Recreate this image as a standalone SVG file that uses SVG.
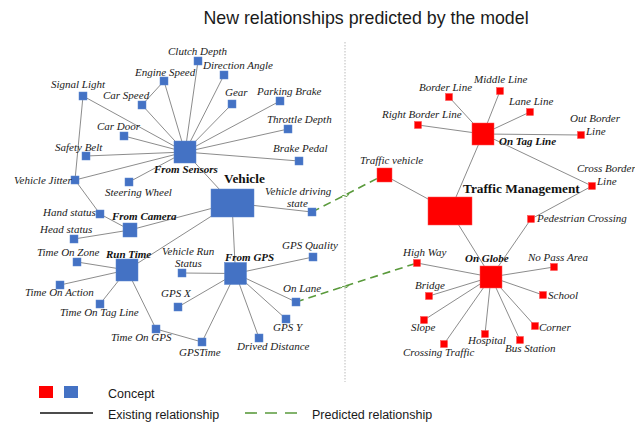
<svg xmlns="http://www.w3.org/2000/svg" width="635" height="422" viewBox="0 0 635 422">
<style>
.e{stroke:#6e6e6e;stroke-width:0.8;fill:none}
.p{stroke:#5a9a3c;stroke-width:1.6;stroke-dasharray:8 5;fill:none}
.b{fill:#4472c4;stroke:#5b86d0;stroke-width:0.5}
.r{fill:#ff0000;stroke:#ff5050;stroke-width:0.5}
.t{font-family:"Liberation Serif","Times New Roman",serif;font-style:italic;font-size:11px;fill:#1a1a1a}
.h{font-family:"Liberation Serif","Times New Roman",serif;font-style:italic;font-weight:bold;font-size:11px;fill:#111}
.m{font-family:"Liberation Serif","Times New Roman",serif;font-weight:bold;font-size:13.3px;fill:#111}
.s{font-family:"Liberation Sans",Arial,sans-serif;font-size:12.5px;fill:#1a1a1a}
</style>
<rect width="635" height="422" fill="#fff"/>
<text x="366" y="24" text-anchor="middle" style="font-family:'Liberation Sans',Arial,sans-serif;font-size:17.8px;fill:#1a1a1a">New relationships predicted by the model</text>
<line x1="345" y1="42" x2="345" y2="382" stroke="#aaa" stroke-width="0.8" stroke-dasharray="1.5 1.5"/>
<g id="connectors">
<line class="e" x1="185" y1="152" x2="198" y2="61"/>
<line class="e" x1="185" y1="152" x2="224" y2="75"/>
<line class="e" x1="185" y1="152" x2="164" y2="81"/>
<line class="e" x1="185" y1="152" x2="142" y2="105"/>
<line class="e" x1="185" y1="152" x2="232" y2="104"/>
<line class="e" x1="185" y1="152" x2="280" y2="101"/>
<line class="e" x1="185" y1="152" x2="288" y2="129"/>
<line class="e" x1="185" y1="152" x2="124" y2="136"/>
<line class="e" x1="185" y1="152" x2="86" y2="156"/>
<line class="e" x1="185" y1="152" x2="299" y2="161"/>
<line class="e" x1="185" y1="152" x2="75" y2="180"/>
<line class="e" x1="185" y1="152" x2="129" y2="182"/>
<line class="e" x1="185" y1="152" x2="83" y2="96"/>
<line class="e" x1="185" y1="152" x2="232" y2="203"/>
<line class="e" x1="142" y1="105" x2="164" y2="81"/>
<line class="e" x1="83" y1="96" x2="75" y2="180"/>
<line class="e" x1="75" y1="180" x2="100" y2="214"/>
<line class="e" x1="100" y1="214" x2="130" y2="230"/>
<line class="e" x1="232" y1="203" x2="130" y2="230"/>
<line class="e" x1="232" y1="203" x2="127" y2="270"/>
<line class="e" x1="232" y1="203" x2="235.5" y2="273.5"/>
<line class="e" x1="232" y1="203" x2="312" y2="212"/>
<line class="e" x1="130" y1="230" x2="74" y2="239"/>
<line class="e" x1="127" y1="270" x2="77" y2="262"/>
<line class="e" x1="127" y1="270" x2="60" y2="285"/>
<line class="e" x1="127" y1="270" x2="100" y2="304"/>
<line class="e" x1="127" y1="270" x2="156" y2="329"/>
<line class="e" x1="156" y1="329" x2="202" y2="342"/>
<line class="e" x1="235.5" y1="273.5" x2="182" y2="273"/>
<line class="e" x1="235.5" y1="273.5" x2="313" y2="257"/>
<line class="e" x1="235.5" y1="273.5" x2="178" y2="307"/>
<line class="e" x1="235.5" y1="273.5" x2="296" y2="302"/>
<line class="e" x1="235.5" y1="273.5" x2="286" y2="319"/>
<line class="e" x1="235.5" y1="273.5" x2="259" y2="338"/>
<line class="e" x1="235.5" y1="273.5" x2="202" y2="342"/>
<line class="e" x1="450" y1="211" x2="384" y2="175"/>
<line class="e" x1="450" y1="211" x2="483" y2="134"/>
<line class="e" x1="450" y1="211" x2="491" y2="277"/>
<line class="e" x1="483" y1="134" x2="449" y2="97"/>
<line class="e" x1="483" y1="134" x2="500" y2="91"/>
<line class="e" x1="483" y1="134" x2="530" y2="112"/>
<line class="e" x1="483" y1="134" x2="418" y2="125"/>
<line class="e" x1="483" y1="134" x2="581" y2="135"/>
<line class="e" x1="483" y1="134" x2="592" y2="186"/>
<line class="e" x1="592" y1="186" x2="531" y2="219"/>
<line class="e" x1="531" y1="219" x2="491" y2="277"/>
<line class="e" x1="491" y1="277" x2="417" y2="263"/>
<line class="e" x1="491" y1="277" x2="554" y2="267"/>
<line class="e" x1="491" y1="277" x2="429" y2="296"/>
<line class="e" x1="491" y1="277" x2="543" y2="295"/>
<line class="e" x1="491" y1="277" x2="424" y2="320"/>
<line class="e" x1="491" y1="277" x2="535" y2="326"/>
<line class="e" x1="491" y1="277" x2="485" y2="334"/>
<line class="e" x1="491" y1="277" x2="520" y2="340"/>
<line class="e" x1="491" y1="277" x2="444" y2="344"/>
<line class="p" x1="312" y1="212" x2="384" y2="175"/>
<line class="p" x1="296" y1="302" x2="417" y2="263"/>
<path d="M341,197 q2,-3 4,-1 t4,-2" stroke="#5a9a3c" stroke-width="1" fill="none"/>
<path d="M341,288 q2,-3 4,-1 t4,-2" stroke="#5a9a3c" stroke-width="1" fill="none"/>
</g>
<g id="n-clutch"><rect class="b" x="194" y="57" width="8" height="8"/><text class="t" x="168" y="55">Clutch Depth</text></g>
<g id="n-direction"><rect class="b" x="220" y="71" width="8" height="8"/><text class="t" x="203" y="69">Direction Angle</text></g>
<g id="n-engine"><rect class="b" x="160" y="77" width="8" height="8"/><text class="t" x="135" y="76">Engine Speed</text></g>
<g id="n-signal"><rect class="b" x="79" y="92" width="8" height="8"/><text class="t" x="51" y="88">Signal Light</text></g>
<g id="n-carspeed"><rect class="b" x="138" y="101" width="8" height="8"/><text class="t" x="103" y="99">Car Speed</text></g>
<g id="n-gear"><rect class="b" x="228" y="100" width="8" height="8"/><text class="t" x="225" y="96">Gear</text></g>
<g id="n-parking"><rect class="b" x="276" y="97" width="8" height="8"/><text class="t" x="257" y="95">Parking Brake</text></g>
<g id="n-throttle"><rect class="b" x="284" y="125" width="8" height="8"/><text class="t" x="267" y="123">Throttle Depth</text></g>
<g id="n-cardoor"><rect class="b" x="120" y="132" width="8" height="8"/><text class="t" x="97" y="130">Car Door</text></g>
<g id="n-safety"><rect class="b" x="82" y="152" width="8" height="8"/><text class="t" x="55" y="151">Safety Belt</text></g>
<g id="n-brake"><rect class="b" x="295" y="157" width="8" height="8"/><text class="t" x="273" y="152">Brake Pedal</text></g>
<g id="n-sensors"><rect class="b" x="174" y="141" width="22" height="22"/><text class="h" x="154" y="173">From Sensors</text></g>
<g id="n-vehicle"><rect class="b" x="211" y="189" width="43" height="28"/><text class="m" x="224" y="183">Vehicle</text></g>
<g id="n-jitter"><rect class="b" x="71" y="176" width="8" height="8"/><text class="t" x="14" y="184">Vehicle Jitter</text></g>
<g id="n-steering"><rect class="b" x="125" y="178" width="8" height="8"/><text class="t" x="105" y="196">Steering Wheel</text></g>
<g id="n-vds"><rect class="b" x="308" y="208" width="8" height="8"/><text class="t" x="265" y="195">Vehicle driving</text><text class="t" x="287" y="207">state</text></g>
<g id="n-hand"><rect class="b" x="96" y="210" width="8" height="8"/><text class="t" x="43" y="216">Hand status</text></g>
<g id="n-camera"><rect class="b" x="123" y="223" width="14" height="14"/><text class="h" x="112" y="220">From Camera</text></g>
<g id="n-head"><rect class="b" x="70" y="235" width="8" height="8"/><text class="t" x="40" y="233">Head status</text></g>
<g id="n-zone"><rect class="b" x="73" y="258" width="8" height="8"/><text class="t" x="37" y="256">Time On Zone</text></g>
<g id="n-runtime"><rect class="b" x="116" y="259" width="22" height="22"/><text class="h" x="106" y="258">Run Time</text></g>
<g id="n-vrs"><rect class="b" x="178" y="269" width="8" height="8"/><text class="t" x="162" y="255">Vehicle Run</text><text class="t" x="175" y="267">Status</text></g>
<g id="n-gps"><rect class="b" x="224.5" y="262.5" width="22" height="22"/><text class="h" x="225" y="261">From GPS</text></g>
<g id="n-gpsq"><rect class="b" x="309" y="253" width="8" height="8"/><text class="t" x="282" y="249">GPS Quality</text></g>
<g id="n-action"><rect class="b" x="56" y="281" width="8" height="8"/><text class="t" x="25" y="296">Time On Action</text></g>
<g id="n-gpsx"><rect class="b" x="174" y="303" width="8" height="8"/><text class="t" x="161" y="297">GPS X</text></g>
<g id="n-onlane"><rect class="b" x="292" y="298" width="8" height="8"/><text class="t" x="283" y="292">On Lane</text></g>
<g id="n-tagline"><rect class="b" x="96" y="300" width="8" height="8"/><text class="t" x="60" y="316">Time On Tag Line</text></g>
<g id="n-gpsy"><rect class="b" x="282" y="315" width="8" height="8"/><text class="t" x="273" y="331">GPS Y</text></g>
<g id="n-timegps"><rect class="b" x="152" y="325" width="8" height="8"/><text class="t" x="111" y="341">Time On GPS</text></g>
<g id="n-gpstime"><rect class="b" x="198" y="338" width="8" height="8"/><text class="t" x="179" y="356">GPSTime</text></g>
<g id="n-drived"><rect class="b" x="255" y="334" width="8" height="8"/><text class="t" x="237" y="350">Drived Distance</text></g>
<g id="n-middle"><rect class="r" x="496.5" y="87.5" width="7" height="7"/><text class="t" x="474" y="83">Middle Line</text></g>
<g id="n-border"><rect class="r" x="445.5" y="93.5" width="7" height="7"/><text class="t" x="419" y="91">Border Line</text></g>
<g id="n-lane"><rect class="r" x="526.5" y="108.5" width="7" height="7"/><text class="t" x="509" y="105">Lane Line</text></g>
<g id="n-rborder"><rect class="r" x="414.5" y="121.5" width="7" height="7"/><text class="t" x="382" y="118">Right Border Line</text></g>
<g id="n-ontag"><rect class="r" x="472" y="123" width="22" height="22"/><text class="h" x="499" y="145">On Tag Line</text></g>
<g id="n-outborder"><rect class="r" x="577.5" y="131.5" width="7" height="7"/><text class="t" x="570" y="122">Out Border</text><text class="t" x="586" y="135">Line</text></g>
<g id="n-tvehicle"><rect class="r" x="377" y="168" width="15" height="14"/><text class="t" x="360" y="164">Traffic vehicle</text></g>
<g id="n-crossborder"><rect class="r" x="588.5" y="182.5" width="7" height="7"/><text class="t" x="577" y="172">Cross Border</text><text class="t" x="597" y="185">Line</text></g>
<g id="n-tm"><rect class="r" x="428" y="197" width="44" height="28"/><text class="m" x="463" y="193">Traffic Management</text></g>
<g id="n-pedestrian"><rect class="r" x="527.5" y="215.5" width="7" height="7"/><text class="t" x="537" y="222">Pedestrian Crossing</text></g>
<g id="n-highway"><rect class="r" x="413.5" y="259.5" width="7" height="7"/><text class="t" x="403" y="256">High Way</text></g>
<g id="n-onglobe"><rect class="r" x="480" y="266" width="22" height="22"/><text class="h" x="465" y="262">On Globe</text></g>
<g id="n-nopass"><rect class="r" x="550.5" y="263.5" width="7" height="7"/><text class="t" x="528" y="261">No Pass Area</text></g>
<g id="n-bridge"><rect class="r" x="425.5" y="292.5" width="7" height="7"/><text class="t" x="415" y="289">Bridge</text></g>
<g id="n-school"><rect class="r" x="539.5" y="291.5" width="7" height="7"/><text class="t" x="548" y="299">School</text></g>
<g id="n-slope"><rect class="r" x="420.5" y="316.5" width="7" height="7"/><text class="t" x="411" y="331">Slope</text></g>
<g id="n-corner"><rect class="r" x="531.5" y="322.5" width="7" height="7"/><text class="t" x="539" y="331">Corner</text></g>
<g id="n-hospital"><rect class="r" x="481.5" y="330.5" width="7" height="7"/><text class="t" x="468" y="344">Hospital</text></g>
<g id="n-bus"><rect class="r" x="516.5" y="336.5" width="7" height="7"/><text class="t" x="505" y="352">Bus Station</text></g>
<g id="n-crossing"><rect class="r" x="440.5" y="340.5" width="7" height="7"/><text class="t" x="403" y="356">Crossing Traffic</text></g>
<g id="legend">
<rect x="39" y="386" width="14" height="12" fill="#ff0000"/>
<rect x="64" y="386" width="14" height="12" fill="#4472c4"/>
<text class="s" x="108" y="398">Concept</text>
<line x1="40" y1="413" x2="93" y2="413" stroke="#111" stroke-width="1.4"/>
<text class="s" x="108" y="419">Existing relationship</text>
<line x1="245" y1="413" x2="303" y2="413" stroke="#5a9a3c" stroke-width="1.6" stroke-dasharray="12 8"/>
<text class="s" x="312" y="419">Predicted relationship</text>
</g>
</svg>
